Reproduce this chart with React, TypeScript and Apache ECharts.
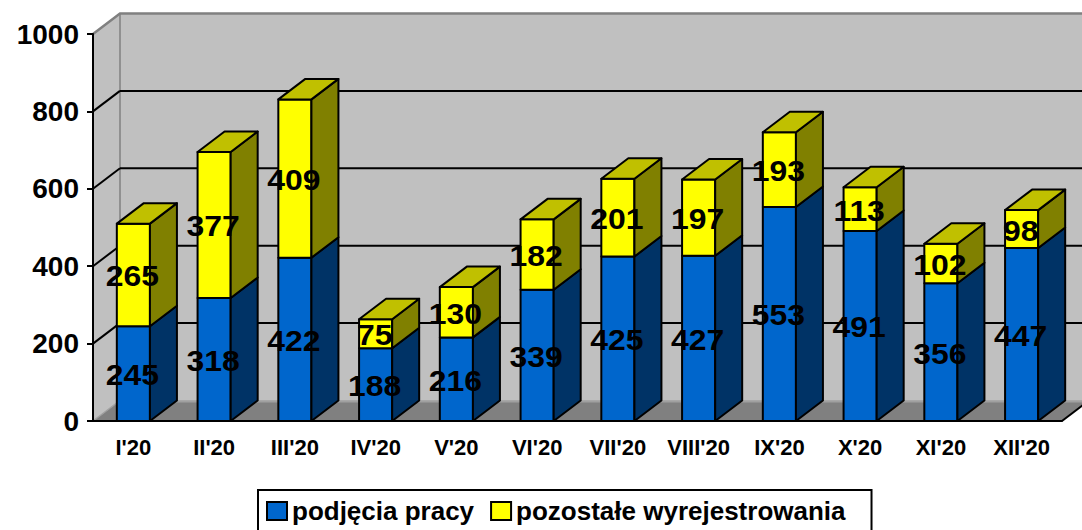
import React, { useEffect, useRef } from "react";
import * as echarts from "echarts";

const categories = ["I'20", "II'20", "III'20", "IV'20", "V'20", "VI'20", "VII'20", "VIII'20", "IX'20", "X'20", "XI'20", "XII'20"];
const podjeciaPracy = [245, 318, 422, 188, 216, 339, 425, 427, 553, 491, 356, 447];
const pozostale = [265, 377, 409, 75, 130, 182, 201, 197, 193, 113, 102, 98];
const yTicks = [0, 200, 400, 600, 800, 1000];
const seriesNames = ["podjęcia pracy", "pozostałe wyrejestrowania"];

const DX = 27;
const DY = -20.5;
const BAR_FRAC = 0.41;
const FONT = '"Liberation Sans", Arial, sans-serif';

function segment(api: any, base: number, val: number, front: string, side: string, top: string | null) {
  const i = api.value(0);
  const p0 = api.coord([i, base]);
  const p1 = api.coord([i, base + val]);
  const w = api.size([1, 0])[0] * BAR_FRAC;
  const xl = p0[0] - w / 2;
  const xr = p0[0] + w / 2;
  const yb = p0[1];
  const yt = p1[1];
  const stroke = { stroke: "#000", lineWidth: 2, lineJoin: "round" };
  const children: any[] = [
    { type: "rect", shape: { x: xl, y: yt, width: w, height: yb - yt }, style: { fill: front, ...stroke } },
    {
      type: "polygon",
      shape: { points: [[xr, yb], [xr + DX, yb + DY], [xr + DX, yt + DY], [xr, yt]] },
      style: { fill: side, ...stroke },
    },
  ];
  if (top) {
    children.push({
      type: "polygon",
      shape: { points: [[xl, yt], [xr, yt], [xr + DX, yt + DY], [xl + DX, yt + DY]] },
      style: { fill: top, ...stroke },
    });
  }
  children.push({
    type: "text",
    x: p0[0] - 1,
    y: (yt + yb) / 2 + 1,
    scaleX: 1.1,
    z2: 100,
    style: { text: String(val), fill: "#000", font: `bold 29px ${FONT}`, align: "center", verticalAlign: "middle" },
  });
  return { type: "group", children };
}

export default function App() {
  const ref = useRef<HTMLDivElement>(null);
  useEffect(() => {
    if (!ref.current) return;
    const chart = echarts.init(ref.current, null, { renderer: "svg" });
    const option: any = {
      animation: false,
      backgroundColor: "#fff",
      grid: { left: 93, top: 34, width: 969, height: 387, containLabel: false },
      legend: {
        left: 258,
        top: 490,
        orient: "horizontal",
        data: seriesNames.map((n) => ({ name: n, icon: "rect" })),
        itemWidth: 20,
        itemHeight: 18,
        itemGap: 16,
        padding: [8, 26, 30, 8],
        borderColor: "#000",
        borderWidth: 2,
        itemStyle: { borderColor: "#000", borderWidth: 2 },
        textStyle: { fontSize: 26, fontWeight: "bold", color: "#000", fontFamily: FONT, lineHeight: 26 },
        selectedMode: false,
      },
      xAxis: {
        type: "category",
        data: categories,
        z: 10,
        axisLine: { lineStyle: { color: "#000", width: 2 } },
        axisTick: { length: 6, lineStyle: { color: "#000", width: 2 } },
        axisLabel: { interval: 0, margin: 15, fontSize: 22, fontWeight: "bold", color: "#000", fontFamily: FONT },
        splitLine: { show: false },
      },
      yAxis: {
        type: "value",
        min: 0,
        max: 1000,
        interval: 200,
        z: 10,
        axisLine: { show: true, lineStyle: { color: "#000", width: 2 } },
        axisTick: { show: true, length: 6, lineStyle: { color: "#000", width: 2 } },
        axisLabel: {
          margin: 14,
          fontSize: 28,
          fontWeight: "bold",
          color: "#000",
          fontFamily: FONT,
          formatter: (v: number) => String(v),
        },
        splitLine: { show: false },
      },
      series: [
        {
          type: "custom",
          name: "tło",
          z: 1,
          silent: true,
          data: [[0, 0]],
          renderItem: (params: any, api: any) => {
            const cs = params.coordSys;
            const x0 = cs.x;
            const x1 = cs.x + cs.width;
            const yTop = api.coord([0, yTicks[yTicks.length - 1]])[1];
            const y0 = api.coord([0, yTicks[0]])[1];
            const ch: any[] = [
              { type: "rect", shape: { x: x0 + DX, y: yTop + DY, width: x1 - x0, height: y0 - yTop }, style: { fill: "#C0C0C0" } },
              {
                type: "polygon",
                shape: { points: [[x0, yTop], [x0 + DX, yTop + DY], [x0 + DX, y0 + DY], [x0, y0]] },
                style: { fill: "#C0C0C0" },
              },
              {
                type: "polygon",
                shape: { points: [[x0, y0], [x1, y0], [x1 + DX, y0 + DY], [x0 + DX, y0 + DY]] },
                style: { fill: "#808080" },
              },
              { type: "line", shape: { x1: x0 + DX, y1: y0 + DY + 1, x2: x1 + DX, y2: y0 + DY + 1 }, style: { stroke: "#A0A0A0", lineWidth: 2 } },
              { type: "line", shape: { x1: x0, y1: y0, x2: x0 + DX, y2: y0 + DY }, style: { stroke: "#A0A0A0", lineWidth: 1.5 } },
              { type: "line", shape: { x1: x0 + DX, y1: yTop + DY, x2: x0 + DX, y2: y0 + DY }, style: { stroke: "#808080", lineWidth: 1.5 } },
              {
                type: "polyline",
                shape: { points: [[x0, yTop], [x0 + DX, yTop + DY], [x1 + DX, yTop + DY]] },
                style: { stroke: "#808080", lineWidth: 2.5, fill: null },
              },
              { type: "line", shape: { x1: x1, y1: y0, x2: x1 + DX, y2: y0 + DY }, style: { stroke: "#000", lineWidth: 2 } },
            ];
            yTicks.slice(1, -1).forEach((t) => {
              const y = api.coord([0, t])[1];
              ch.push({ type: "line", shape: { x1: x0 + DX, y1: y + DY, x2: x1 + DX, y2: y + DY }, style: { stroke: "#000", lineWidth: 2 } });
              ch.push({ type: "line", shape: { x1: x0, y1: y, x2: x0 + DX, y2: y + DY }, style: { stroke: "#000", lineWidth: 2 } });
            });
            return { type: "group", children: ch };
          },
        },
        {
          type: "custom",
          name: seriesNames[0],
          z: 3,
          itemStyle: { color: "#0066CC" },
          data: podjeciaPracy.map((v, i) => [i, 0, v]),
          renderItem: (params: any, api: any) => segment(api, api.value(1), api.value(2), "#0066CC", "#003366", null),
        },
        {
          type: "custom",
          name: seriesNames[1],
          z: 3,
          itemStyle: { color: "#FFFF00" },
          data: pozostale.map((v, i) => [i, podjeciaPracy[i], v]),
          renderItem: (params: any, api: any) => segment(api, api.value(1), api.value(2), "#FFFF00", "#808000", "#C0C000"),
        },
      ],
    };
    chart.setOption(option);
    return () => chart.dispose();
  }, []);
  return (
    <div
      ref={ref}
      style={{ position: "absolute", left: 0, top: 0, width: 1082, height: 530, background: "#fff" }}
    />
  );
}
